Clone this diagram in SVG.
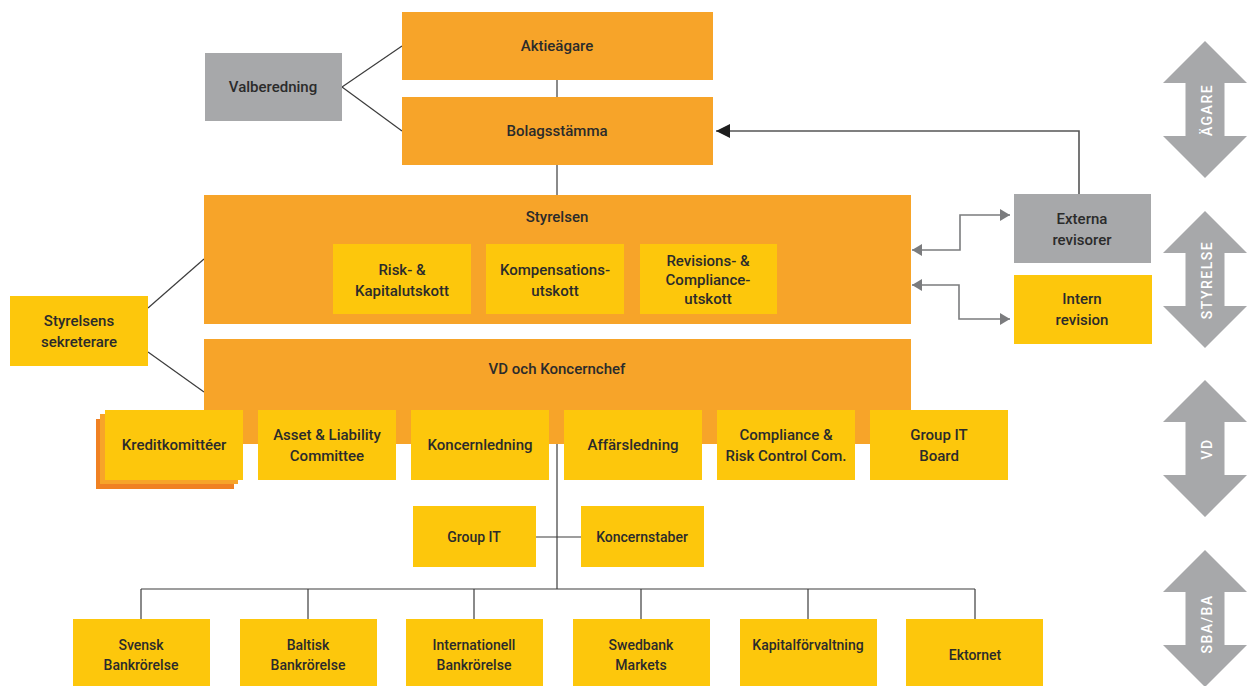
<svg xmlns="http://www.w3.org/2000/svg" width="1249" height="686" viewBox="0 0 1249 686">
<style>
.or{fill:#f7a429}
.ye{fill:#fdc70c}
.gr{fill:#a7a8aa}
.t{font-family:Roboto,"Liberation Sans",sans-serif;font-weight:500;font-size:15px;fill:#2b2b2b;text-anchor:middle;dominant-baseline:central}
.s{font-size:14px}
.ln{stroke:#3c3c3c;stroke-width:1.2;fill:none}
.gl{stroke:#7b7c7e;stroke-width:1.6;fill:none}
.ar{fill:#a7a8aa}
.at{font-family:Roboto,"Liberation Sans",sans-serif;font-weight:500;font-size:14px;fill:#fff;text-anchor:middle;dominant-baseline:central;letter-spacing:1.5px}
</style>
<defs>
<marker id="ga" viewBox="0 0 10 12" refX="10" refY="6" markerWidth="10" markerHeight="12" markerUnits="userSpaceOnUse" orient="auto-start-reverse"><path d="M0,0 L10,6 L0,12 Z" fill="#7b7c7e"/></marker>
<marker id="ba" viewBox="0 0 14 14" refX="14" refY="7" markerWidth="14" markerHeight="14" markerUnits="userSpaceOnUse" orient="auto"><path d="M0,0 L14,7 L0,14 Z" fill="#1e1e1e"/></marker>
<path id="dbl" d="M0,0 L42,42 L19.5,42 L19.5,95 L42,95 L0,137 L-42,95 L-19.5,95 L-19.5,42 L-42,42 Z"/>
</defs>
<g id="connectors">
<line class="ln" x1="342" y1="87" x2="402" y2="46"/>
<line class="ln" x1="342" y1="87" x2="402" y2="131"/>
<line class="ln" x1="557" y1="80" x2="557" y2="97"/>
<line class="ln" x1="557" y1="165" x2="557" y2="195"/>
<line class="ln" x1="148" y1="308" x2="204" y2="259"/>
<line class="ln" x1="148" y1="352" x2="204" y2="392"/>
<polyline class="gl" points="1079,194 1079,131 716,131" marker-end="url(#ba)" style="stroke:#555"/>
<polyline class="gl" points="912,250 960,250 960,215 1010,215" marker-start="url(#ga)" marker-end="url(#ga)"/>
<polyline class="gl" points="912,285 959,285 959,319 1010,319" marker-start="url(#ga)" marker-end="url(#ga)"/>
<line class="ln" x1="557" y1="444" x2="557" y2="589"/>
<line class="ln" x1="536" y1="537" x2="581" y2="537"/>
<line class="ln" x1="141" y1="589" x2="975" y2="589"/>
<line class="ln" x1="141" y1="589" x2="141" y2="619"/>
<line class="ln" x1="308" y1="589" x2="308" y2="619"/>
<line class="ln" x1="474" y1="589" x2="474" y2="619"/>
<line class="ln" x1="641" y1="589" x2="641" y2="619"/>
<line class="ln" x1="808" y1="589" x2="808" y2="619"/>
<line class="ln" x1="975" y1="589" x2="975" y2="619"/>
</g>
<g id="aktieagare"><rect class="or" x="402" y="12" width="311" height="68"/><text class="t" x="557" y="46">Aktieägare</text></g>
<g id="bolagsstamma"><rect class="or" x="402" y="97" width="311" height="68"/><text class="t" x="557" y="131">Bolagsstämma</text></g>
<g id="valberedning"><rect class="gr" x="205" y="53" width="137" height="68"/><text class="t" x="273" y="87">Valberedning</text></g>
<g id="styrelsen"><rect class="or" x="204" y="195" width="707" height="129"/><text class="t" x="557" y="217">Styrelsen</text></g>
<g id="risk"><rect class="ye" x="333" y="244" width="138" height="70"/><text class="t" x="402" y="270">Risk- &amp;</text><text class="t" x="402" y="291">Kapitalutskott</text></g>
<g id="kompensation"><rect class="ye" x="486" y="244" width="138" height="70"/><text class="t" x="555" y="270">Kompensations-</text><text class="t" x="555" y="291">utskott</text></g>
<g id="revision"><rect class="ye" x="640" y="244" width="137" height="70"/><text class="t" x="708" y="261">Revisions- &amp;</text><text class="t" x="708" y="280">Compliance-</text><text class="t" x="708" y="299">utskott</text></g>
<g id="sekreterare"><rect class="ye" x="10" y="296" width="138" height="70"/><text class="t" x="79" y="321">Styrelsens</text><text class="t" x="79" y="342">sekreterare</text></g>
<g id="externa"><rect class="gr" x="1014" y="194" width="137" height="69"/><text class="t" x="1082" y="219">Externa</text><text class="t" x="1082" y="240">revisorer</text></g>
<g id="intern"><rect class="ye" x="1014" y="275" width="138" height="69"/><text class="t" x="1082" y="299">Intern</text><text class="t" x="1082" y="320">revision</text></g>
<g id="vd"><rect class="or" x="204" y="339" width="707" height="105"/><text class="t" x="557" y="369">VD och Koncernchef</text></g>
<g id="kredit"><rect x="96" y="419" width="138" height="70" fill="#f08122"/><rect class="or" x="100" y="414" width="138" height="70"/><rect class="ye" x="105" y="410" width="138" height="70"/><text class="t" x="174" y="445">Kreditkomittéer</text></g>
<g id="alco"><rect class="ye" x="258" y="410" width="138" height="70"/><text class="t" x="327" y="435">Asset &amp; Liability</text><text class="t" x="327" y="456">Committee</text></g>
<g id="koncernledning"><rect class="ye" x="411" y="410" width="138" height="70"/><text class="t" x="480" y="445">Koncernledning</text></g>
<g id="affarsledning"><rect class="ye" x="564" y="410" width="138" height="70"/><text class="t" x="633" y="445">Affärsledning</text></g>
<g id="compliance"><rect class="ye" x="717" y="410" width="138" height="70"/><text class="t" x="786" y="435">Compliance &amp;</text><text class="t" x="786" y="456">Risk Control Com.</text></g>
<g id="groupitboard"><rect class="ye" x="870" y="410" width="138" height="70"/><text class="t" x="939" y="435">Group IT</text><text class="t" x="939" y="456">Board</text></g>
<g id="groupit"><rect class="ye" x="413" y="506" width="123" height="61"/><text class="t s" x="474" y="537">Group IT</text></g>
<g id="koncernstaber"><rect class="ye" x="581" y="506" width="123" height="61"/><text class="t s" x="642" y="537">Koncernstaber</text></g>
<g id="svensk"><rect class="ye" x="73" y="619" width="137" height="67"/><text class="t s" x="141" y="645">Svensk</text><text class="t s" x="141" y="665">Bankrörelse</text></g>
<g id="baltisk"><rect class="ye" x="240" y="619" width="137" height="67"/><text class="t s" x="308" y="645">Baltisk</text><text class="t s" x="308" y="665">Bankrörelse</text></g>
<g id="internationell"><rect class="ye" x="406" y="619" width="137" height="67"/><text class="t s" x="474" y="645">Internationell</text><text class="t s" x="474" y="665">Bankrörelse</text></g>
<g id="markets"><rect class="ye" x="573" y="619" width="137" height="67"/><text class="t s" x="641" y="645">Swedbank</text><text class="t s" x="641" y="665">Markets</text></g>
<g id="kapital"><rect class="ye" x="740" y="619" width="137" height="67"/><text class="t s" x="808" y="645">Kapitalförvaltning</text></g>
<g id="ektornet"><rect class="ye" x="906" y="619" width="137" height="67"/><text class="t s" x="975" y="655">Ektornet</text></g>
<g id="arrow-agare"><use href="#dbl" class="ar" x="1205" y="41"/><text class="at" transform="translate(1207,110) rotate(-90)">ÄGARE</text></g>
<g id="arrow-styrelse"><use href="#dbl" class="ar" x="1205" y="211"/><text class="at" transform="translate(1207,280) rotate(-90)">STYRELSE</text></g>
<g id="arrow-vd"><use href="#dbl" class="ar" x="1205" y="380"/><text class="at" transform="translate(1207,449) rotate(-90)">VD</text></g>
<g id="arrow-sba"><use href="#dbl" class="ar" x="1205" y="550"/><text class="at" transform="translate(1207,624) rotate(-90)">SBA/BA</text></g>
</svg>
